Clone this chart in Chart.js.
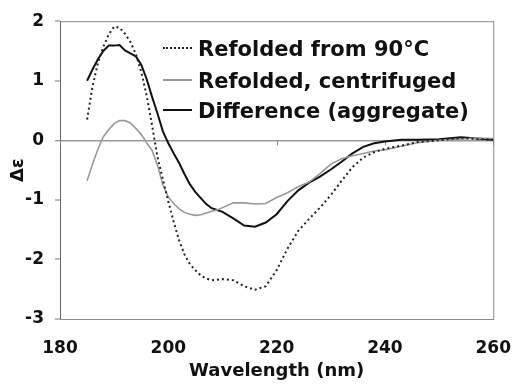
<!DOCTYPE html>
<html>
<head>
<meta charset="utf-8">
<script src="https://cdn.jsdelivr.net/npm/chart.js@4"></script>
<style>
  html, body { margin: 0; padding: 0; background: #fff; }
  #wrap { position: relative; width: 530px; height: 385px; }
  canvas { position: absolute; left: 0; top: 0; }
  .lg { position: absolute; left: 198px; font: bold 21px "DejaVu Sans"; line-height: 24px; color: #111; white-space: nowrap; }
  .sw { position: absolute; left: 163px; width: 29px; height: 0; }
</style>
</head>
<body>
<div id="wrap">
  <canvas id="c" width="530" height="385"></canvas>
  <div class="sw" style="top:47px;border-top:2px dotted #222;"></div>
  <div class="lg" style="top:37px;">Refolded from 90°C</div>
  <div class="sw" style="top:79px;border-top:2px solid #999;"></div>
  <div class="lg" style="top:69px;">Refolded, centrifuged</div>
  <div class="sw" style="top:109px;border-top:2px solid #111;"></div>
  <div class="lg" style="top:99px;">Difference (aggregate)</div>
</div>
<script>
const wavelength = [185,186,187,188,189,190,191,192,193,194,195,196,197,198,199,200,201,202,203,204,205,206,207,208,209,210,212,214,216,218,220,222,224,226,228,230,232,234,236,238,240,243,246,250,254,257,260];
const refolded90 = [0.35,0.90,1.30,1.57,1.78,1.91,1.89,1.79,1.65,1.45,1.15,0.75,0.25,-0.28,-0.66,-1.03,-1.37,-1.68,-1.92,-2.08,-2.18,-2.27,-2.32,-2.35,-2.34,-2.33,-2.35,-2.45,-2.51,-2.45,-2.18,-1.82,-1.52,-1.32,-1.13,-0.92,-0.68,-0.45,-0.29,-0.20,-0.14,-0.09,-0.03,0.00,0.04,0.02,0.01];
const centrifuged = [-0.68,-0.40,-0.15,0.06,0.18,0.28,0.33,0.33,0.29,0.20,0.10,-0.04,-0.17,-0.42,-0.75,-0.95,-1.06,-1.15,-1.21,-1.24,-1.26,-1.25,-1.22,-1.19,-1.17,-1.13,-1.05,-1.05,-1.07,-1.06,-0.96,-0.88,-0.78,-0.70,-0.56,-0.40,-0.31,-0.26,-0.22,-0.18,-0.16,-0.10,-0.04,0.00,0.02,0.04,0.03];
const difference = [1.00,1.19,1.36,1.50,1.59,1.59,1.60,1.51,1.46,1.41,1.27,1.03,0.73,0.45,0.15,-0.05,-0.22,-0.38,-0.57,-0.74,-0.87,-0.97,-1.07,-1.14,-1.17,-1.20,-1.31,-1.43,-1.45,-1.38,-1.24,-1.02,-0.84,-0.71,-0.61,-0.49,-0.36,-0.22,-0.11,-0.05,-0.02,0.01,0.01,0.02,0.05,0.03,0.01];
const seriesNames = ["Refolded from 90°C", "Refolded, centrifuged", "Difference (aggregate)"];
const xTicks = [180,200,220,240,260];
const yTicks = [-3,-2,-1,0,1,2];

const pts = arr => wavelength.map((w, i) => ({x: w, y: arr[i]}));

const framePlugin = {
  id: 'frame',
  beforeDatasetsDraw(chart) {
    const {ctx, chartArea: a, scales} = chart;
    ctx.save();
    ctx.strokeStyle = '#8a8a8a';
    ctx.lineWidth = 1;
    ctx.strokeRect(a.left + 0.5, a.top + 0.5, a.right - a.left, a.bottom - a.top);
    ctx.strokeStyle = '#666';
    ctx.beginPath();
    ctx.moveTo(a.left + 0.5, a.top);
    ctx.lineTo(a.left + 0.5, a.bottom);
    ctx.stroke();
    // small tick marks where the x axis crosses at zero
    const y0 = scales.y.getPixelForValue(0);
    ctx.strokeStyle = '#888';
    ctx.beginPath();
    xTicks.forEach(v => {
      const px = Math.round(scales.x.getPixelForValue(v)) + 0.5;
      ctx.moveTo(px, y0);
      ctx.lineTo(px, y0 + 5);
    });
    ctx.stroke();
    ctx.restore();
  }
};

new Chart(document.getElementById('c'), {
  type: 'line',
  data: {
    datasets: [
      { label: seriesNames[0], data: pts(refolded90), borderColor: '#222', borderWidth: 2, borderDash: [2, 3], pointRadius: 0, tension: 0, fill: false },
      { label: seriesNames[1], data: pts(centrifuged), borderColor: '#999', borderWidth: 1.6, pointRadius: 0, tension: 0, fill: false },
      { label: seriesNames[2], data: pts(difference), borderColor: '#111', borderWidth: 2, pointRadius: 0, tension: 0, fill: false }
    ]
  },
  options: {
    responsive: false,
    animation: false,
    layout: { padding: { left: 0, top: 19, right: 18, bottom: 0 } },
    plugins: { legend: { display: false }, tooltip: { enabled: false } },
    scales: {
      x: {
        type: 'linear', min: 180, max: 260,
        afterBuildTicks: s => { s.ticks = xTicks.map(v => ({value: v})); },
        afterFit: s => { s.height = 66; },
        grid: { display: false, drawTicks: false },
        border: { display: false },
        ticks: { padding: 19, color: '#111', font: { family: 'DejaVu Sans', size: 17, weight: 'bold' } },
        title: { display: true, text: 'Wavelength (nm)', color: '#111', padding: { top: 0, bottom: 3 }, font: { family: 'DejaVu Sans', size: 18, weight: 'bold' } }
      },
      y: {
        type: 'linear', min: -3, max: 2,
        afterBuildTicks: s => { s.ticks = yTicks.map(v => ({value: v})); },
        afterFit: s => { s.width = 60; },
        grid: {
          drawTicks: true, tickLength: 5,
          color: c => (c.tick && c.tick.value === 0) ? '#9a9a9a' : 'rgba(0,0,0,0)',
          lineWidth: c => (c.tick && c.tick.value === 0) ? 1.5 : 0,
          tickColor: '#777', tickWidth: 1
        },
        border: { display: false },
        ticks: { padding: 11, color: '#111', font: { family: 'DejaVu Sans', size: 17, weight: 'bold' } },
        title: { display: true, text: 'Δε', color: '#111', padding: { top: 8, bottom: 0 }, font: { family: 'DejaVu Sans', size: 18, weight: 'bold' } }
      }
    }
  },
  plugins: [framePlugin]
});
</script>
</body>
</html>
